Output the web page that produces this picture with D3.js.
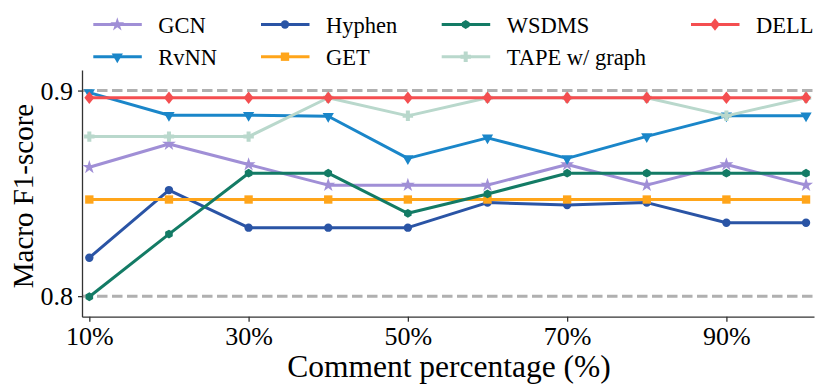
<!DOCTYPE html>
<html>
<meta charset="utf-8">
<title>Macro F1 vs comment percentage</title>
<style>
  body { margin: 0; background: #fff; }
  .grid { stroke: #b0b0b0; stroke-width: 3; stroke-dasharray: 10.5 4.5; }
</style>
<script src="https://d3js.org/d3.v7.min.js"></script>
<body>
<div id="chart"></div>
<script>
// data
var percents = [10, 20, 30, 40, 50, 60, 70, 80, 90, 100];
var xTicks = [10, 30, 50, 70, 90];
var yTicks = [0.8, 0.9];

var gcn    = [0.8627, 0.874, 0.864, 0.854, 0.854, 0.854, 0.864, 0.854, 0.864, 0.854];
var rvnn   = [0.899, 0.888, 0.888, 0.8875, 0.867, 0.877, 0.867, 0.8777, 0.8877, 0.8877];
var hyphen = [0.8187, 0.8516, 0.8333, 0.8333, 0.8333, 0.8455, 0.8443, 0.8455, 0.8357, 0.8357];
var get    = [0.847, 0.847, 0.847, 0.847, 0.847, 0.847, 0.847, 0.847, 0.847, 0.847];
var wsdms  = [0.7997, 0.8302, 0.8598, 0.8598, 0.8403, 0.8497, 0.8598, 0.8598, 0.8598, 0.8598];
var tape   = [0.8776, 0.8776, 0.8776, 0.8965, 0.8877, 0.8965, 0.8965, 0.8965, 0.8877, 0.8965];
var dell   = [0.8965, 0.8965, 0.8965, 0.8965, 0.8965, 0.8965, 0.8965, 0.8965, 0.8965, 0.8965];

var series = [
  {name: "GCN", values: gcn, color: "#a08fd6", marker: "star"},
  {name: "RvNN", values: rvnn, color: "#1a86c9", marker: "tridown"},
  {name: "Hyphen", values: hyphen, color: "#2a54a5", marker: "circle"},
  {name: "GET", values: get, color: "#ffa51a", marker: "square"},
  {name: "WSDMS", values: wsdms, color: "#137b65", marker: "hexagon"},
  {name: "TAPE w/ graph", values: tape, color: "#b9d8cc", marker: "plus"},
  {name: "DELL", values: dell, color: "#f44e50", marker: "diamond"}
];

var serif = "'Liberation Serif', 'Times New Roman', Times, 'DejaVu Serif', serif";

var W = 831, H = 391;
var margin = {top: 70, right: 17, bottom: 74.3, left: 82};
var width = W - margin.left - margin.right,
    height = H - margin.top - margin.bottom;

var svg = d3.select("#chart").append("svg")
    .attr("width", W).attr("height", H);

var x = d3.scaleLinear().domain([9.08, 101]).range([margin.left, margin.left + width]);
var y = d3.scaleLinear().domain([0.79, 0.91]).range([margin.top + height, margin.top]);

// marker shapes
var hexagon = {draw: function(ctx, size) {
  var r = Math.sqrt(size / 2.598);
  for (var i = 0; i < 6; i++) {
    var a = Math.PI / 6 + i * Math.PI / 3;
    if (i === 0) ctx.moveTo(r * Math.cos(a), r * Math.sin(a));
    else ctx.lineTo(r * Math.cos(a), r * Math.sin(a));
  }
  ctx.closePath();
}};
var plus = {draw: function(ctx, size) {
  var r = Math.sqrt(size) / 1.6, t = r / 2.6;
  ctx.moveTo(-t, -r); ctx.lineTo(t, -r); ctx.lineTo(t, -t); ctx.lineTo(r, -t);
  ctx.lineTo(r, t); ctx.lineTo(t, t); ctx.lineTo(t, r); ctx.lineTo(-t, r);
  ctx.lineTo(-t, t); ctx.lineTo(-r, t); ctx.lineTo(-r, -t); ctx.lineTo(-t, -t);
  ctx.closePath();
}};
var diamond = {draw: function(ctx, size) {
  var r = Math.sqrt(size) / 1.35;
  ctx.moveTo(0, -r); ctx.lineTo(r * 0.8, 0); ctx.lineTo(0, r); ctx.lineTo(-r * 0.8, 0);
  ctx.closePath();
}};

function markerPath(kind) {
  var s;
  if (kind === "star") s = d3.symbol(d3.symbolStar, 60);
  else if (kind === "tridown") s = d3.symbol(d3.symbolTriangle, 55);
  else if (kind === "circle") s = d3.symbol(d3.symbolCircle, 55);
  else if (kind === "square") s = d3.symbol(d3.symbolSquare, 70);
  else if (kind === "hexagon") s = d3.symbol(hexagon, 50);
  else if (kind === "plus") s = d3.symbol(plus, 70);
  else s = d3.symbol(diamond, 70);
  return s();
}
function markerTransform(kind, px, py) {
  return "translate(" + px + "," + py + ")" + (kind === "tridown" ? " rotate(180)" : "");
}

// dashed reference lines
svg.append("g").selectAll("line")
    .data(yTicks)
  .enter().append("line")
    .attr("class", "grid")
    .attr("x1", margin.left).attr("x2", margin.left + width)
    .attr("y1", function(d) { return y(d); })
    .attr("y2", function(d) { return y(d); });

// axes
var xAxis = svg.append("g")
    .attr("transform", "translate(0," + (margin.top + height) + ")")
    .call(d3.axisBottom(x).tickValues(xTicks).tickFormat(function(d) { return d + "%"; })
      .tickSize(5).tickSizeOuter(0));
var yAxis = svg.append("g")
    .attr("transform", "translate(" + margin.left + ",0)")
    .call(d3.axisLeft(y).tickValues(yTicks).tickFormat(d3.format(".1f"))
      .tickSize(4).tickSizeOuter(0));

[xAxis, yAxis].forEach(function(a) {
  a.attr("font-family", null).attr("font-size", null);
  a.select(".domain").attr("stroke", "#333").attr("stroke-width", 1.3);
  a.selectAll(".tick line").attr("stroke", "#333").attr("stroke-width", 1.3);
  a.selectAll("text").style("font-size", "26px").style("font-family", serif).attr("fill", "#000");
});
xAxis.selectAll("text").attr("dy", null).attr("y", 28);
yAxis.selectAll("text").attr("x", -9).attr("dy", "0.33em");

svg.append("text")
    .attr("x", 449)
    .attr("y", 377)
    .attr("text-anchor", "middle")
    .style("font-family", serif)
    .style("font-size", "31.5px")
    .text("Comment percentage (%)");

svg.append("text")
    .attr("transform", "translate(33,196) rotate(-90)")
    .attr("text-anchor", "middle")
    .style("font-family", serif)
    .style("font-size", "29px")
    .text("Macro F1-score");

// lines and markers
var line = d3.line()
    .x(function(d, i) { return x(percents[i]); })
    .y(function(d) { return y(d); });

series.forEach(function(s) {
  var g = svg.append("g");
  g.append("path")
      .datum(s.values)
      .attr("d", line)
      .attr("fill", "none")
      .attr("stroke", s.color)
      .attr("stroke-width", 3)
      .attr("stroke-linejoin", "round");
  g.selectAll("path.m")
      .data(s.values)
    .enter().append("path")
      .attr("class", "m")
      .attr("d", markerPath(s.marker))
      .attr("transform", function(d, i) { return markerTransform(s.marker, x(percents[i]), y(d)); })
      .attr("fill", s.color);
});

// legend, 4 columns filled column-wise
var legendCols = [93.3, 261, 441.7, 691];
var legendRows = [24.5, 56.7];
var legend = svg.append("g");
series.forEach(function(s, i) {
  var lx = legendCols[Math.floor(i / 2)], ly = legendRows[i % 2];
  var item = legend.append("g");
  item.append("line")
      .attr("x1", lx).attr("x2", lx + 48.5)
      .attr("y1", ly).attr("y2", ly)
      .attr("stroke", s.color).attr("stroke-width", 3);
  item.append("path")
      .attr("d", markerPath(s.marker))
      .attr("transform", markerTransform(s.marker, lx + 24, ly))
      .attr("fill", s.color);
  item.append("text")
      .attr("x", lx + 65)
      .attr("y", ly + 8.3)
      .style("font-family", serif)
      .style("font-size", "22.5px")
      .text(s.name);
});
</script>
</body>
</html>
